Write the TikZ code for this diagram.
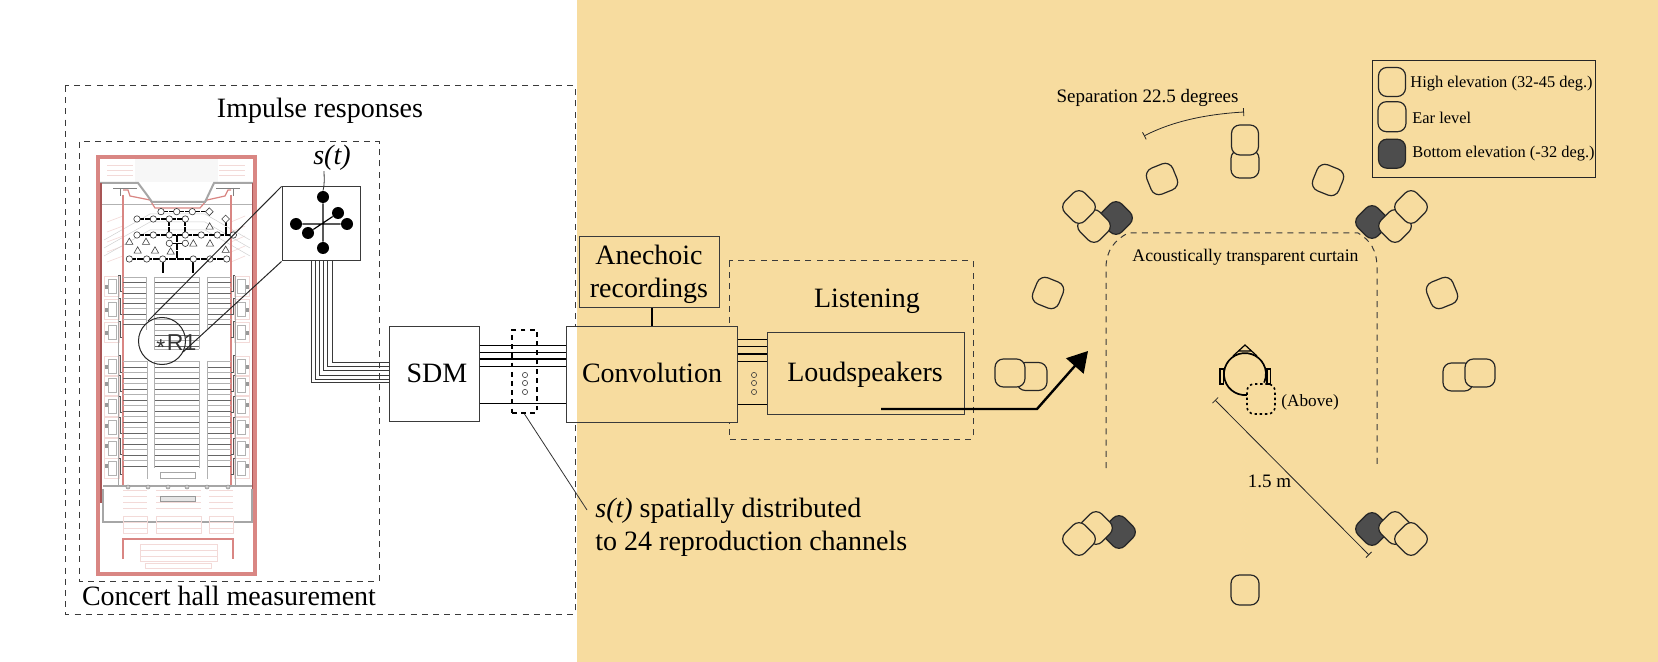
\documentclass[tikz,border=0pt]{standalone}
\usepackage{fontspec}
\setmainfont{Liberation Serif}
\newfontfamily\labelsans{Liberation Sans}
\usetikzlibrary{arrows.meta,shapes.geometric}
\definecolor{bgo}{HTML}{F7DC9F}
\definecolor{hallred}{HTML}{D98683}
\definecolor{hallpink}{HTML}{F3DAD8}
\definecolor{darkred}{HTML}{A85555}
\definecolor{spkdark}{HTML}{4D4D4D}
\definecolor{linegray}{HTML}{3A3A3A}
\tikzset{
 px/.style={x=0.5pt,y=-0.5pt},
 bigtext/.style={inner sep=0,font=\fontsize{14}{16}\selectfont},
 smalltext/.style={inner sep=0,font=\fontsize{9.5}{11}\selectfont},
 legtext/.style={inner sep=0,anchor=west,font=\fontsize{8.2}{10}\selectfont},
 dashbox/.style={draw=linegray,line width=.5pt,dash pattern=on 3pt off 2.6pt},
 block/.style={draw=linegray,line width=.5pt,inner sep=0,rectangle},
 spk/.style={draw=black!85,line width=.6pt,rounded corners=4.2pt,fill=bgo,inner sep=0,
   minimum width=14pt,minimum height=14pt,rectangle},
 spkdk/.style={spk,fill=spkdark},
 wire/.style={draw=black,line width=.65pt},
 bundle/.style={draw=linegray,line width=.5pt},
 dotc/.style={circle,draw=linegray,line width=.3pt,inner sep=0,minimum size=2.6pt,fill=none},
 micdot/.style={circle,fill=black,inner sep=0,minimum size=6pt},
 probe/.style={circle,draw=black!80,fill=white,line width=.3pt,inner sep=0,minimum size=3.2pt},
 tri/.style={regular polygon,regular polygon sides=3,draw=black!75,fill=white,line width=.3pt,inner sep=0,minimum size=4.2pt},
 dia/.style={diamond,draw=black!75,fill=white,line width=.3pt,inner sep=0,minimum size=4pt},
 net/.style={draw=black,line width=.7pt},
 seatA/.style={draw=black!60,line width=.3pt},
 seatB/.style={draw=black!30,line width=.3pt},
 pk/.style={draw=hallpink,line width=.3pt},
}
\begin{document}
\begin{tikzpicture}[px]
\useasboundingbox (0,0) rectangle (1658,662);
\fill[white] (0,0) rectangle (577,662);
\fill[bgo] (577,0) rectangle (1658,662);

% --- concert hall plan
\fill[black!3] (135,158) rectangle (218,182);
\foreach \xa/\xb in {107/133,219/245}{
  \foreach \yy in {165,170,175}{\draw[pk] (\xa,\yy)--(\xb,\yy);}
}
\foreach \xa/\xb in {107/123,231/245}{
  \foreach \yy in {216,226,236,246,256}{\draw[pk] (\xa,\yy+6)--(\xb,\yy);}
}
\foreach \dy in {0,8,16}{
  \draw[black!18,line width=.25pt] (104,240+\dy) -- (150,214+\dy) -- (205,214+\dy) -- (250,240+\dy);
}
\draw[black!30,line width=.5pt] (100,205)--(253,205);
\draw[hallred,line width=.6pt] (123,195)--(123,486) (231,195)--(231,486);
\draw[hallred,line width=.6pt] (123,190)--(128,190)--(130,196)--(150,200)--(155,208)--(200,208)--(207,200)--(225,196)--(228,190)--(231,190);
\draw[black!35,line width=1pt] (100,183)--(138,183)--(147,195)--(152,202)--(205,202)--(214,183)--(253,183);
\draw[black!50,line width=.35pt] (113,188)--(137,188) (216,188)--(240,188)
  (120,188)--(120,196) (233,188)--(233,196);
\draw[darkred,line width=.9pt] (101,183)--(101,503) (253,183)--(253,503);
% side boxes
\foreach \yy/\sl in {276/9,299/9,322/9,356/9,375/7,396/7,417/7,438/6,458/6}{
  \fill[black!40] (104,\yy+\sl) rectangle +(3.5,4);
  \fill[black!40] (246,\yy+\sl) rectangle +(3.5,4);
  \draw[black!30,line width=.25pt] (108,\yy+3) rectangle +(8,14);
  \draw[black!30,line width=.25pt] (237,\yy+3) rectangle +(8,14);
  \draw[hallpink,line width=.25pt] (104,\yy) rectangle +(15,20);
  \draw[hallpink,line width=.25pt] (234,\yy) rectangle +(15,20);
  \draw[black!65,line width=.5pt] (118,\yy) -- (120,\yy) -- (120,\yy+16) -- (122,\yy+16);
  \draw[black!65,line width=.5pt] (235,\yy) -- (233,\yy) -- (233,\yy+16) -- (231,\yy+16);
}
\draw[black!35,line width=.35pt] (118,276)--(118,486) (235,276)--(235,486);
% seating rows
\foreach \yy [count=\i] in {277,282.3,287.6,292.9,298.2,303.5,308.8,314.1,319.4,324.7}{
  \pgfmathparse{mod(\i,2)==0?"seatA":"seatB"}\edef\st{\pgfmathresult}
  \draw[\st] (123,\yy)--(146,\yy) (154,\yy)--(199,\yy) (207,\yy)--(231,\yy);
}
\foreach \yy [count=\i] in {330,335.3,340.6,345.9,349}{
  \pgfmathparse{mod(\i,2)==0?"seatA":"seatB"}\edef\st{\pgfmathresult}
  \draw[\st] (154,\yy)--(199,\yy);
}
\foreach \yy [count=\i] in {361.6,367,372.5,378,383.5,389,394.5,400,405.5,411,416.5,422,427.5,433,438.5,444,449.5,455,460.5,466}{
  \pgfmathparse{mod(\i,2)==0?"seatA":"seatB"}\edef\st{\pgfmathresult}
  \draw[\st] (123,\yy)--(147,\yy) (154,\yy)--(199,\yy) (207,\yy)--(231,\yy);
}
\draw[black!30,line width=.3pt] (147,361)--(147,479) (207,361)--(207,479) (154,361)--(154,468) (199,361)--(199,468)
  (146,277)--(146,330) (207,277)--(207,330) (154,277)--(154,349) (199,277)--(199,349);
\draw[black!35,line width=.3pt] (160,472) rectangle (195,478.5);
% foyer and stage
\draw[black!35,line width=1.1pt] (103,486)--(252,486);
\draw[black!35,line width=.7pt] (103,489)--(103,522)--(252,522)--(252,489);
\foreach \x in {128,148,168,187,207,228}{\draw[black!45,fill=black!20,line width=.25pt] (\x,487) circle (2);}
\foreach \cl/\cr in {123/147,156/201,209/233}{
  \foreach \yy in {490,496,502,508}{\draw[pk] (\cl,\yy) -- (\cr,\yy);}
  \draw[pk] (\cl,516) rectangle (\cr,533);
  \draw[pk] (\cl,522)--(\cr,522) (\cl,528)--(\cr,528);
}
\draw[black!40,fill=black!10,line width=.3pt] (160,496) rectangle (195,501);
\draw[hallred,line width=.9pt] (123,559)--(123,539)--(233,539)--(233,559);
\draw[pk] (140,544) rectangle (217,561) (140,550)--(217,550) (140,556)--(217,556) (145.5,563.5) rectangle (211,568.5);
\draw[hallred,line width=1.6pt] (98,157) rectangle (255,574);

% probe network
\draw[net,dash pattern=on 3.5pt off .5pt]
  (161,211.7)--(209,211.7) (137,219)--(185,219)
  (137,235)--(233,235) (169,243.3)--(185,243.3)
  (129,259)--(227,259)
  (169,219)--(169,235) (185,219)--(185,235)
  (177,235)--(177,259) (226,219)--(226,235);
\draw[net] (163,259)--(163,273) (193,259)--(193,273);
\foreach \zx/\zy in {303/395,350/395,397/395,231/417,280/417,328/417,376/417,231/465,280/465,328/465,376/465,424/465,472/465,520/465,328/490,376/490,208/537,260/537,308/537,400/537,450/537,500/537}{
  \node[probe] at (60+\zx/3,80+\zy/3) {};
}
\foreach \zx/\zy in {448/395,497/417}{\node[dia] at (60+\zx/3,80+\zy/3) {};}
\foreach \zx/\zy in {449/441,208/487,258/487,233/513,285/513,332/516,497/511,400/492,450/492}{
  \node[tri] at (60+\zx/3,80+\zy/3) {};
}

% --- measurement boxes
\draw[dashbox] (65,86) rectangle (575,614);
\draw[dashbox] (79,142) rectangle (379,581);
\node[bigtext] (irt) at (320,111) {Impulse responses};
\node[bigtext] (cht) at (229,596) {Concert hall measurement};

% R1 circle and microphone
\node[circle,draw=black!85,line width=.5pt,minimum size=23.5pt,inner sep=0] (rone) at (162,341) {};
\node[inner sep=0,anchor=west,font=\labelsans\fontsize{11.5}{13}\selectfont,text=black!80] (ronet) at (156,345) {\raisebox{-2.5pt}{*}\kern.8ptR1};
\node[block,draw=linegray,fill=white,minimum width=39pt,minimum height=37pt] (mic) at (321,224) {};
\draw[black!85,line width=.5pt] (148,321)--(mic.north west) (183,352)--(mic.south west);
\node[micdot] (m1) at (323,197) {};
\node[micdot] (m2) at (323,248) {};
\node[micdot] (m3) at (296,224) {};
\node[micdot] (m4) at (347,224) {};
\node[micdot] (m5) at (338,213) {};
\node[micdot] (m6) at (308,233) {};
\draw[black,line width=.6pt] (m1)--(m2) (m3)--(m4) (m5)--(m6);
\node[inner sep=0,font=\itshape\fontsize{14}{16}\selectfont] (st) at (332,158) {s(t)};
\draw[black!80,line width=.4pt] (st.south) ++(-4pt,0) .. controls +(0,-3pt) and +(1pt,4pt) .. (m1.north);

% blocks
\draw[dashbox] (729,261) rectangle (973,439);
\node[block,fill=white,minimum width=45pt,minimum height=47pt] (sdm) at (434,374) {};
\node[bigtext] (sdmt) at (437,373) {SDM};
\node[block,fill=bgo,minimum width=85.5pt,minimum height=47.5pt,
  path picture={\fill[white] (path picture bounding box.south west) rectangle ([xshift=5.5pt]path picture bounding box.north west);}] (conv) at (651.5,374.5) {};
\node[bigtext] (convt) at (652,373) {Convolution};
\node[block,minimum width=70pt,minimum height=35.5pt,align=center,font=\fontsize{14}{16.5}\selectfont] (anec) at (649,272.5) {\rule{0pt}{11.3pt}Anechoic\\recordings};
\draw[wire] (anec.south -| 652,0) -- (conv.north -| 652,0);
\node[block,minimum width=98.5pt,minimum height=40.5pt] (loud) at (865.5,373.5) {};
\node[bigtext] (loudt) at (865,375) {Loudspeakers};
\node[bigtext] (listt) at (867,301) {Listening};

% bundles
\foreach \xx/\yy in {311/382.7,315/379,319/375,323/370.7,327.7/366.7,332.7/362.7}{
  \draw[bundle] (mic.south -| \xx,0) |- (sdm.west |- 0,\yy);
}
\foreach \yy in {345.7,352.7,359,366.7,403.3}{
  \draw[wire] (sdm.east |- 0,\yy) -- (conv.west |- 0,\yy);
}
\foreach \yy in {339.7,346.7,354,361.3,404.7}{
  \draw[wire] (conv.east |- 0,\yy) -- (loud.west |- 0,\yy);
}
\foreach \yy in {375,383,392}{
  \node[dotc] at (525,\yy) {};
  \node[dotc] at (754,\yy) {};
}
\node[draw=black,line width=1pt,dash pattern=on 2.4pt off 2.2pt,inner sep=0,minimum width=12.5pt,minimum height=41.5pt] (chan) at (524.5,371.5) {};
\node[bigtext,anchor=west,align=left,font=\fontsize{14}{16.5}\selectfont] (chant) at (595,527) {\textit{s(t)} spatially distributed\\to 24 reproduction channels};
\coordinate (chl) at (587,510);
\draw[black!80,line width=.4pt] (chan.south) -- (chl);

% arrow to the room
\coordinate (ar0) at (881,409);
\coordinate (ar1) at (1037,409);
\coordinate (ar2) at (1088,351);
\draw[line width=1.2pt,-{Triangle[length=10pt,width=11.5pt]}] (ar0) -- (ar1) -- (ar2);

% --- room
\draw[dashbox] (1106,468) -- (1106,268) .. controls (1106,250) and (1115,240) .. (1128,233) -- (1358,233) .. controls (1370,240) and (1377,250) .. (1377,268) -- (1377,468);
\node[inner sep=0,font=\fontsize{8.85}{10}\selectfont] (curt) at (1245.5,257) {Acoustically transparent curtain};

\node[spk,minimum width=14pt,minimum height=14pt] (sb) at (1245,164) {};
\node[spk,minimum width=13.5pt,minimum height=15pt] (st1) at (1245,140) {};
\node[spk,rotate=22] (s2) at (1162,179) {};
\node[spk,rotate=-22] (s3) at (1328,180) {};
\node[spk,rotate=-22] (s4) at (1048,293) {};
\node[spk,rotate=22] (s5) at (1442,293) {};
\node[spk,minimum width=15pt,minimum height=14pt] (s6b) at (1032,376.5) {};
\node[spk,minimum width=15pt,minimum height=14pt] (s6) at (1010,373) {};
\node[spk,minimum width=15pt,minimum height=14pt] (s7b) at (1458,377) {};
\node[spk,minimum width=15pt,minimum height=14pt] (s7) at (1480,373) {};
\node[spk,minimum width=14pt,minimum height=15pt] (s8) at (1245,590) {};

\node[spkdk,rotate=45] (c1k) at (1116,218) {};
\node[spk,rotate=45] (c1e) at (1094,226) {};
\node[spk,rotate=45] (c1h) at (1079,207) {};
\node[spkdk,rotate=45] (c2k) at (1372,222) {};
\node[spk,rotate=45] (c2e) at (1395,226) {};
\node[spk,rotate=45] (c2h) at (1411,207) {};
\node[spkdk,rotate=45] (c3k) at (1119,532) {};
\node[spk,rotate=45] (c3e) at (1096,528) {};
\node[spk,rotate=45] (c3h) at (1079,539) {};
\node[spkdk,rotate=45] (c4k) at (1372,529) {};
\node[spk,rotate=45] (c4e) at (1395,528) {};
\node[spk,rotate=45] (c4h) at (1411,539) {};

% head
\draw[black,line width=.85pt] (1246.8,395) arc[start angle=-85,end angle=-384,radius=10.5pt];
\draw[black,line width=.6pt] (1233,356)--(1245,345)--(1257,356) (1239,351)--(1251,351);
\draw[black,line width=.6pt] (1220,369) rectangle (1223.5,384) (1267,369) rectangle (1270.5,384);
\node[draw=black,line width=.8pt,dash pattern=on 1.2pt off 1.4pt,rounded corners=3.6pt,inner sep=0,minimum width=14pt,minimum height=15pt] (abv) at (1261,399) {};
\node[inner sep=0,anchor=west,font=\fontsize{8.6}{10}\selectfont] (abvt) at (1281,402) {(Above)};

% dimension lines
\coordinate (da) at (1215,400);
\coordinate (db) at (1369,555);
\draw[black!85,line width=.4pt,{Bar[width=4pt,line width=.4pt]}-{Bar[width=4pt,line width=.4pt]}] (da) -- (db);
\node[smalltext] (dt) at (1269.5,481) {1.5 m};
\coordinate (sa) at (1144,136);
\coordinate (sb2) at (1244,112);
\draw[black!85,line width=.4pt,{Bar[width=4pt,line width=.4pt]}-{Bar[width=4pt,line width=.4pt]}] (sa) .. controls (1175,120) and (1210,114) .. (sb2);
\node[smalltext] (sept) at (1147.5,97.7) {Separation 22.5 degrees};

% legend
\node[draw=black!85,line width=.5pt,inner sep=0,minimum width=111.7pt,minimum height=58.3pt] (leg) at (1484.2,119) {};
\node[spk,minimum width=13.5pt,minimum height=14.5pt] (lh) at (1392,82) {};
\node[spk,minimum width=14pt,minimum height=15pt] (le) at (1392,116.7) {};
\node[spkdk,minimum width=13.5pt,minimum height=14.5pt] (lb) at (1392,153.7) {};
\node[legtext] (lht) at (1410,84) {High elevation (32-45 deg.)};
\node[legtext] (let) at (1412,117.7) {Ear level};
\node[legtext] (lbt) at (1412,154) {Bottom elevation (-32 deg.)};
\end{tikzpicture}
\end{document}
